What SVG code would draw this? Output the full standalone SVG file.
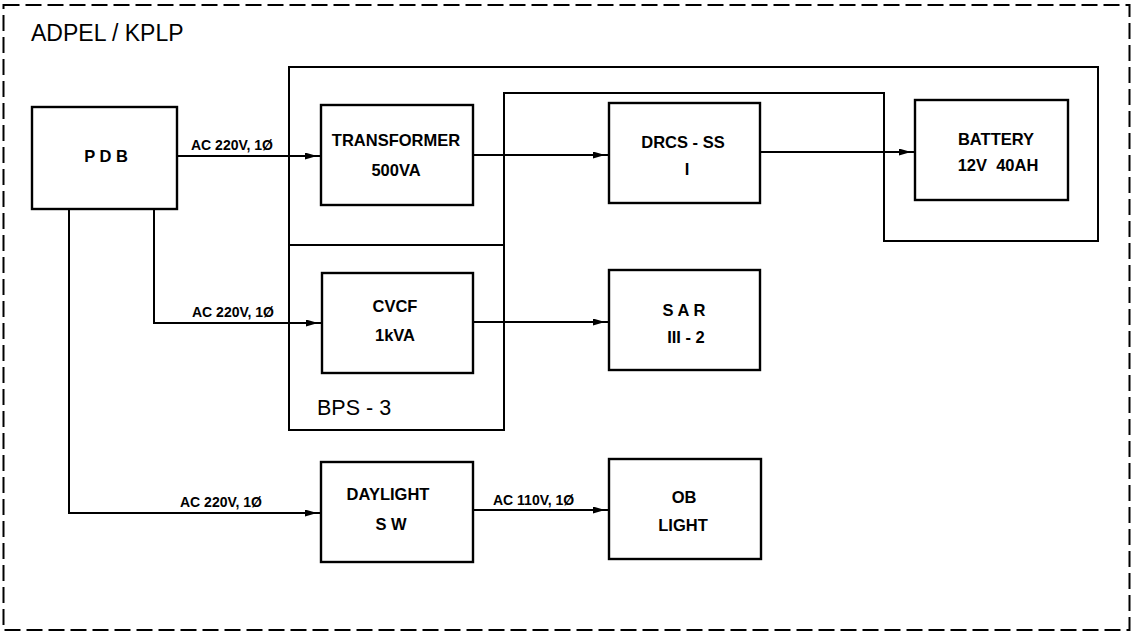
<svg xmlns="http://www.w3.org/2000/svg" width="1133" height="634" viewBox="0 0 1133 634">
<style>
.box{fill:#fff;stroke:#000;stroke-width:2.4}
.ln{fill:none;stroke:#000;stroke-width:2}
.arr{fill:none;stroke:#000;stroke-width:2;marker-end:url(#ah)}
.t{font-family:"Liberation Sans",Arial,sans-serif;font-weight:bold;font-size:16.5px;text-anchor:middle;fill:#000}
.lbl{font-family:"Liberation Sans",Arial,sans-serif;font-weight:bold;font-size:14px;fill:#000}
.big{font-family:"Liberation Sans",Arial,sans-serif;fill:#000}
</style>
<defs>
<marker id="ah" markerUnits="userSpaceOnUse" markerWidth="20" markerHeight="10" refX="16" refY="3.5" orient="auto">
<path d="M0,0 L12,3.5 L0,7 z" fill="#000"/>
</marker>
</defs>
<rect x="0" y="0" width="1133" height="634" fill="#fff"/>
<g id="frame">
<rect x="3.5" y="5" width="1126" height="625" fill="none" stroke="#000" stroke-width="2" stroke-dasharray="16 6"/>
<text class="big" x="31" y="41" font-size="23">ADPEL / KPLP</text>
</g>
<g id="bps3">
<path class="ln" d="M289,67 H1098 V241 H884 V93 H504 V430 H289 Z" stroke-width="2.4"/>
<path class="ln" d="M289,245 H504" stroke-width="2.4"/>
<text class="big" x="317" y="415" font-size="21.5">BPS - 3</text>
</g>
<g id="connectors">
<path class="arr" d="M177,156 H321"/>
<path class="arr" d="M473,155 H609"/>
<path class="arr" d="M760,152 H915"/>
<path class="arr" d="M154,209 V323 H322"/>
<path class="arr" d="M473,322 H609"/>
<path class="arr" d="M69,209 V513 H321"/>
<path class="arr" d="M473,510 H609"/>
<text class="lbl" x="191" y="150">AC 220V, 1Ø</text>
<text class="lbl" x="192" y="317">AC 220V, 1Ø</text>
<text class="lbl" x="180" y="507">AC 220V, 1Ø</text>
<text class="lbl" x="493" y="505">AC 110V, 1Ø</text>
</g>
<g id="pdb">
<rect class="box" x="32" y="107" width="145" height="102"/>
<text class="t" x="106" y="162" font-size="19">P D B</text>
</g>
<g id="transformer">
<rect class="box" x="321" y="105" width="152" height="100"/>
<text class="t" x="396" y="146">TRANSFORMER</text>
<text class="t" x="396" y="176">500VA</text>
</g>
<g id="drcs">
<rect class="box" x="609" y="103" width="151" height="100"/>
<text class="t" x="683" y="148">DRCS - SS</text>
<text class="t" x="687" y="175">I</text>
</g>
<g id="battery">
<rect class="box" x="915" y="100" width="153" height="100"/>
<text class="t" x="996" y="145">BATTERY</text>
<text class="t" x="998" y="171" xml:space="preserve">12V  40AH</text>
</g>
<g id="cvcf">
<rect class="box" x="322" y="273" width="151" height="100"/>
<text class="t" x="395" y="312">CVCF</text>
<text class="t" x="395" y="341">1kVA</text>
</g>
<g id="sar">
<rect class="box" x="609" y="270" width="151" height="100"/>
<text class="t" x="684" y="316">S A R</text>
<text class="t" x="686" y="343">III - 2</text>
</g>
<g id="daylight">
<rect class="box" x="321" y="462" width="152" height="100"/>
<text class="t" x="388" y="500">DAYLIGHT</text>
<text class="t" x="391" y="530">S W</text>
</g>
<g id="oblight">
<rect class="box" x="609" y="459" width="152" height="100"/>
<text class="t" x="684" y="503">OB</text>
<text class="t" x="683" y="531">LIGHT</text>
</g>
</svg>
